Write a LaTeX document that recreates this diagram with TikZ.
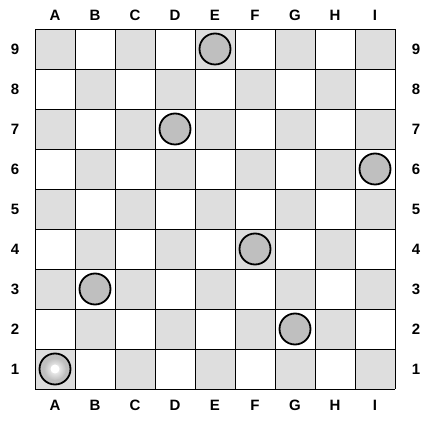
\documentclass[tikz,border=0pt]{standalone}
\usepackage{fontspec}
\setmainfont{Liberation Sans}
\begin{document}
\begin{tikzpicture}[x=1pt,y=1pt,
  lbl/.style={font=\fontsize{15}{17}\selectfont\bfseries, text=black, inner sep=0pt},
  piece/.style={circle, draw=black, line width=1.8pt, fill=black!25, minimum size=31pt, inner sep=0pt}]
\useasboundingbox (0,0) rectangle (432,426);
\fill[white] (0,0) rectangle (432,426);
\begin{scope}[shift={(35,37)}]
\foreach \c in {1,...,9}{
  \foreach \r in {1,...,9}{
    \pgfmathparse{int(mod(\c+\r,2))}
    \ifnum\pgfmathresult=0
      \fill[black!13] ({(\c-1)*40},{(\r-1)*40}) rectangle ++(40,40);
    \fi
  }
}
\draw[line width=0.9pt] (0,0) grid[step=40] (360,360);
\foreach \l [count=\i] in {A,B,C,D,E,F,G,H,I}{
  \node[lbl] (top\l) at ({(\i-0.5)*40},374) {\l};
  \node[lbl] (bot\l) at ({(\i-0.5)*40},-16) {\l};
}
\foreach \r in {1,...,9}{
  \node[lbl] (left\r) at (-20,{(\r-0.5)*40}) {\r};
  \node[lbl] (right\r) at (381,{(\r-0.5)*40}) {\r};
}
\node[piece] (pE9) at (180,340) {};
\node[piece] (pD7) at (140,260) {};
\node[piece] (pI6) at (340,220) {};
\node[piece] (pF4) at (220,140) {};
\node[piece] (pB3) at (60,100) {};
\node[piece] (pG2) at (260,60) {};
\node[piece] (pA1) at (20,20) {};
\shade[inner color=white, outer color=black!25] (pA1.center) circle (11);
\fill[white] (pA1.center) circle (4.5);
\end{scope}
\end{tikzpicture}
\end{document}
